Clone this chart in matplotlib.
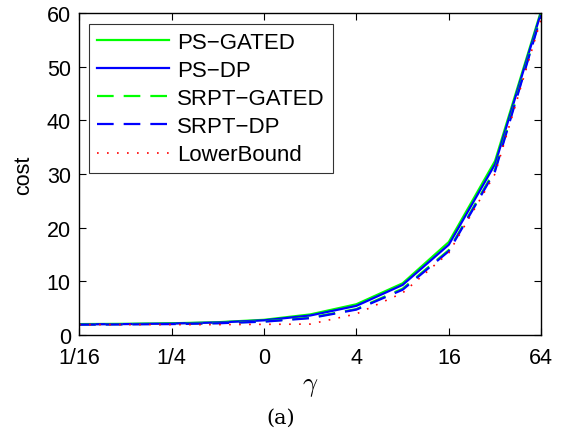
import numpy as np
import matplotlib.pyplot as plt

# gamma values on a log2 axis: 1/16 ... 64
log2_gamma = [-4, -3, -2, -1, 0, 1, 2, 3, 4, 5, 6]
tick_pos = [-4, -2, 0, 2, 4, 6]
tick_labels = ['1/16', '1/4', '0', '4', '16', '64']

ps_gated = [2.0, 2.05, 2.15, 2.35, 2.8, 3.8, 5.7, 9.6, 17.3, 32.4, 60.5]
ps_dp = [1.95, 2.0, 2.1, 2.3, 2.7, 3.6, 5.4, 9.3, 16.8, 31.8, 60.2]
srpt_gated = [1.95, 2.0, 2.05, 2.2, 2.5, 3.2, 4.8, 8.6, 15.8, 30.8, 59.8]
srpt_dp = [1.9, 1.95, 2.0, 2.15, 2.45, 3.1, 4.7, 8.4, 15.6, 30.5, 59.6]
lower_bound = [1.9, 1.9, 1.9, 1.9, 1.95, 2.0, 3.9, 7.8, 15.3, 30.0, 59.0]

plt.rcParams['font.family'] = ['Liberation Sans', 'DejaVu Sans']
plt.rcParams['mathtext.fontset'] = 'cm'

fig = plt.figure(figsize=(5.65, 4.35), dpi=100)
ax = fig.add_axes([0.140, 0.228, 0.818, 0.740])

ax.plot(log2_gamma, ps_gated, color=(0, 1, 0), lw=1.6, label='PS\u2212GATED')
ax.plot(log2_gamma, ps_dp, color=(0, 0, 1), lw=1.6, label='PS\u2212DP')
ax.plot(log2_gamma, srpt_gated, color=(0, 1, 0), lw=1.6, ls=(0, (7.5, 4.5)), label='SRPT\u2212GATED')
ax.plot(log2_gamma, srpt_dp, color=(0, 0, 1), lw=1.6, ls=(0, (7.5, 4.5)), label='SRPT\u2212DP')
ax.plot(log2_gamma, lower_bound, color=(1, 0, 0), lw=1.2, ls=(0, (1, 5)), label='LowerBound')

ax.set_xlim(-4, 6)
ax.set_ylim(0, 60)
ax.set_xticks(tick_pos)
ax.set_xticklabels(tick_labels)
ax.set_yticks(range(0, 61, 10))
ax.tick_params(direction='in', top=True, right=True, labelsize=15.5, length=5, width=0.8)
ax.tick_params(axis='x', pad=9)
ax.tick_params(axis='y', pad=6)
for s in ax.spines.values():
    s.set_linewidth(1.0)

ax.set_ylabel('cost', fontsize=15.5, labelpad=9)
ax.set_xlabel(r'$\gamma$', fontsize=19, labelpad=4)

leg = ax.legend(loc='upper left', bbox_to_anchor=(0.022, 0.966), fontsize=16, handlelength=3.24,
                labelspacing=0.32, borderpad=0.36, handletextpad=0.36, frameon=True, fancybox=False,
                edgecolor='black', borderaxespad=0)
leg.get_frame().set_linewidth(0.8)

fig.text(0.497, 0.039, '(a)', fontsize=15, family='DejaVu Serif', ha='center', va='center')

fig.savefig('out.png', dpi=100)
